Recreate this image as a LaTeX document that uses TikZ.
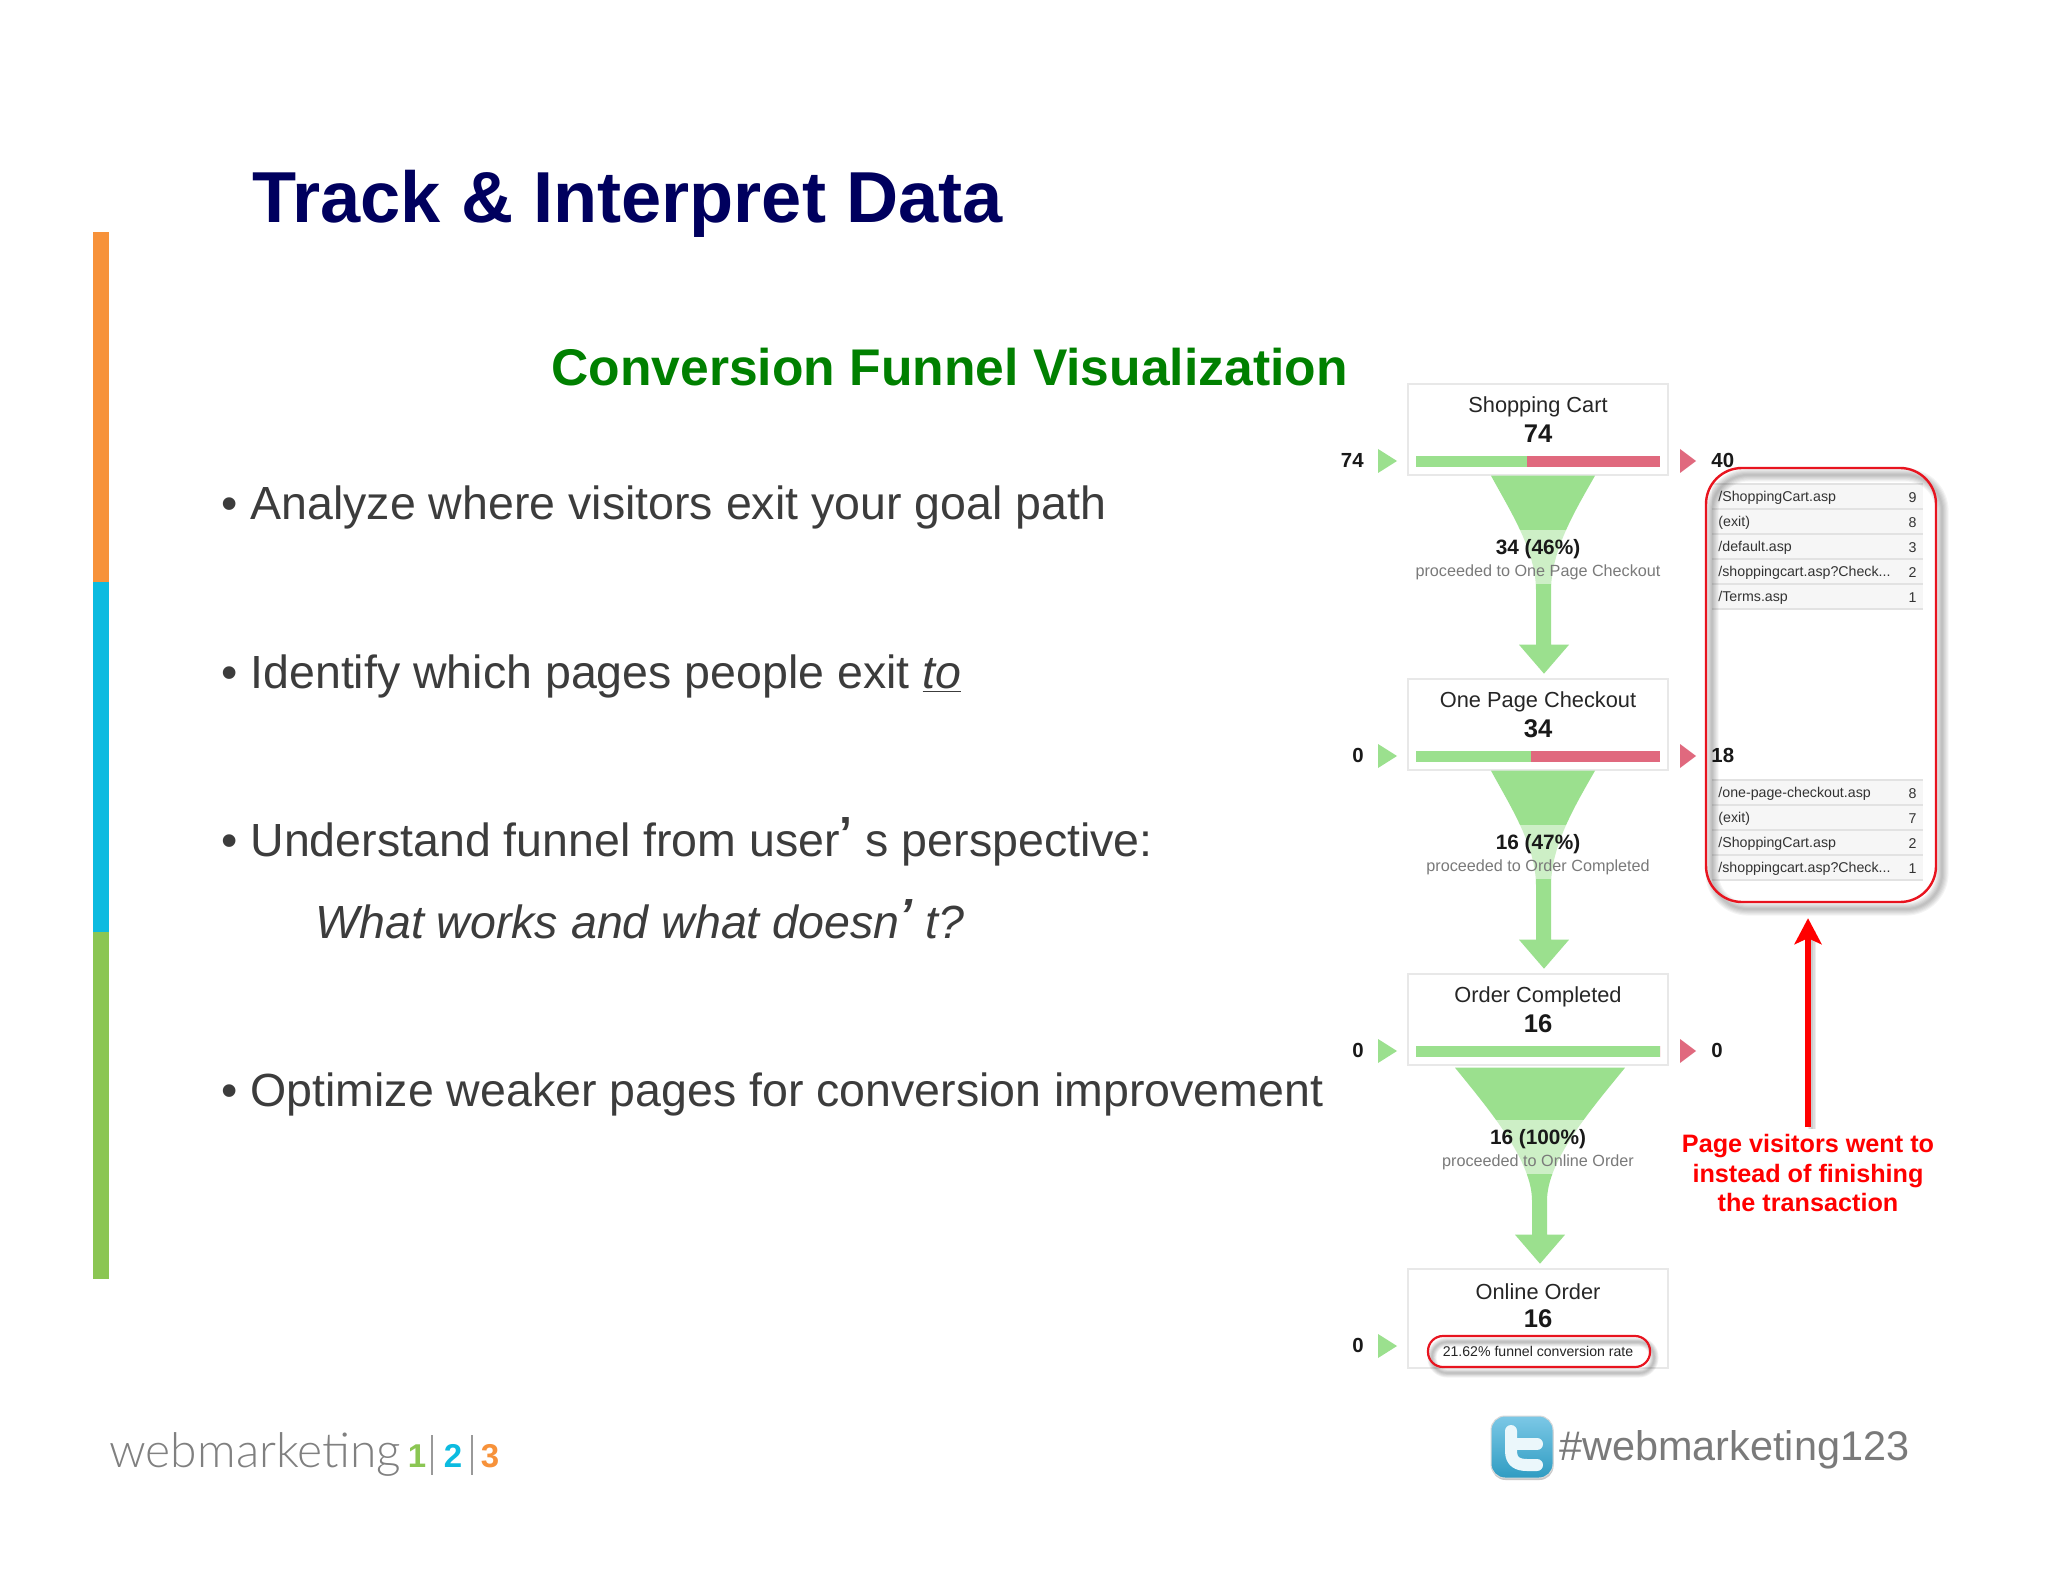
\documentclass[tikz,border=0pt]{standalone}
\usepackage{fontspec}
\setmainfont{Liberation Sans}
\newfontfamily\logofont{Lato Light}
\usetikzlibrary{arrows.meta,calc,shapes.geometric}
\definecolor{navytitle}{HTML}{00005E}
\definecolor{greentitle}{HTML}{008000}
\definecolor{bodygrey}{HTML}{3C3C3C}
\definecolor{barorange}{HTML}{F7923A}
\definecolor{barblue}{HTML}{0CBBE0}
\definecolor{bargreen}{HTML}{8BC653}
\definecolor{fgreen}{HTML}{9BE08E}
\definecolor{fpink}{HTML}{E0697E}
\definecolor{boxline}{HTML}{E8E8E8}
\definecolor{rowfill}{HTML}{F6F6F6}
\definecolor{rowline}{HTML}{E2E2E2}
\definecolor{redmark}{HTML}{E8141F}
\definecolor{twtop}{HTML}{7CC8E6}
\definecolor{twbot}{HTML}{2F9CC2}
\newcommand{\raisedapos}{\raisebox{.13em}{\bfseries ’}}
\tikzset{
  stepbox/.style={draw=boxline,line width=.7pt,fill=white,minimum width=130pt,inner sep=0pt},
  steptitle/.style={font=\fontsize{10.9}{13}\selectfont,text=black!85,inner sep=0pt},
  stepnum/.style={font=\bfseries\fontsize{12.8}{14}\selectfont,text=black!90,inner sep=0pt},
  sidenum/.style={font=\bfseries\fontsize{10.2}{12}\selectfont,text=black!90,inner sep=0pt},
  pct/.style={font=\bfseries\fontsize{10.4}{12}\selectfont,text=black!90,inner sep=0pt},
  proceed/.style={font=\fontsize{8.1}{10}\selectfont,text=black!52,inner sep=0pt},
  rowtext/.style={font=\fontsize{7.1}{9}\selectfont,text=black!80,inner sep=0pt},
  bullet/.style={font=\fontsize{23.25}{26}\selectfont,text=bodygrey,inner sep=0pt,anchor=base west},
  rednote/.style={font=\bfseries\fontsize{12.6}{14.6}\selectfont,text=red,inner sep=0pt,align=center},
}
% step box: name, top y, title, number, bar split x, left count, right count
\newcommand{\stepblock}[7]{%
  \begin{scope}[shift={(0,#2)}]
    \node[stepbox,minimum height=45.5pt] (#1) at (1538,45.5) {};
    \node[steptitle] (#1title) at (1538,23) {#3};
    \node[stepnum] (#1num) at (1538,50) {#4};
    \fill[fgreen] (1416,72) rectangle (#5,83);
    \fill[fpink] (#5,72) rectangle (1660,83);
    \fill[fgreen] (1378,65) -- (1397,77) -- (1378,89) -- cycle;
    \fill[fpink] (1680,65) -- (1696,77) -- (1680,89) -- cycle;
    \node[sidenum,anchor=east] (#1in) at (1364,76) {#6};
    \node[sidenum,anchor=west] (#1out) at (1711,76) {#7};
  \end{scope}}
% narrow funnel below a box
\newcommand{\funnelone}[3]{%
  \begin{scope}[shift={(#1.south)}]
    \fill[fgreen] (-47,0) .. controls (-28,35) and (-2,75) .. (-2,115) -- (-2,169) -- (-19,169) -- (6,198) -- (31,169) -- (13,169) -- (13,115) .. controls (13,75) and (37,35) .. (57,0) -- cycle;
    \fill[white,opacity=.5] (-105,54) rectangle (125,108);
    \node[pct] (#1pct) at (0,73.5) {#2};
    \node[proceed] (#1go) at (0,97) {#3};
  \end{scope}}
\newcommand{\exitrow}[5]{%
  \fill[rowfill] (1712,#2) rectangle (1923,#2+#5);
  \draw[rowline,line width=.6pt] (1712,#2) -- (1923,#2) (1712,#2+#5) -- (1923,#2+#5);
  \node[rowtext,anchor=west] (#1a) at (1718,#2+14) {#3};
  \node[rowtext,anchor=east] (#1b) at (1917,#2+14) {#4};}
\begin{document}
\begin{tikzpicture}[x=0.5pt,y=-0.5pt]
\useasboundingbox (0,0) rectangle (2048,1582);
\fill[white] (0,0) rectangle (2048,1582);
% side bar
\fill[barorange] (93,232) rectangle (109,582);
\fill[barblue] (93,582) rectangle (109,932);
\fill[bargreen] (93,932) rectangle (109,1279);
% titles
\node[font=\bfseries\fontsize{36.1}{44}\selectfont,text=navytitle,anchor=base west,inner sep=0pt] (title) at (252,223) {Track \& Interpret Data};
\node[font=\bfseries\fontsize{25.8}{30}\selectfont,text=greentitle,anchor=base west,inner sep=0pt] (subtitle) at (551,386) {Conversion Funnel Visualization};
% bullets
\node[bullet] (b1) at (221,520) {• Analyze where visitors exit your goal path};
\node[bullet] (b2) at (221,688) {• Identify which pages people exit \underline{\itshape to}};
\node[bullet] (b3) at (221,856) {• Understand funnel from user\raisedapos\ s perspective:};
\node[bullet] (b3i) at (315,938) {\itshape What works and what doesn\raisedapos\ t?};
\node[bullet] (b4) at (221,1106) {• Optimize weaker pages for conversion improvement};
% funnel steps
\stepblock{cart}{384}{Shopping Cart}{74}{1527}{74}{40}
\stepblock{page}{679}{One Page Checkout}{34}{1531}{0}{18}
\stepblock{order}{974}{Order Completed}{16}{1660}{0}{0}
\funnelone{cart}{34 (46\%)}{proceeded to One Page Checkout}
\funnelone{page}{16 (47\%)}{proceeded to Order Completed}
\begin{scope}[shift={(order.south)}]
  \fill[fgreen] (-83,2) .. controls (-48,45) and (-6,95) .. (-6,135) -- (-6,169) -- (-23,169) -- (2,198) -- (27,169) -- (9,169) -- (9,135) .. controls (9,95) and (52,45) .. (87,2) -- cycle;
  \fill[white,opacity=.5] (-105,54) rectangle (125,108);
  \node[pct] (orderpct) at (0,73.5) {16 (100\%)};
  \node[proceed] (ordergo) at (0,97) {proceeded to Online Order};
\end{scope}
% last step
\node[stepbox,minimum height=49.5pt] (online) at (1538,1318.5) {};
\node[steptitle] (onlinetitle) at (1538,1291.5) {Online Order};
\node[stepnum] (onlinenum) at (1538,1319) {16};
\fill[fgreen] (1378,1334) -- (1397,1346) -- (1378,1358) -- cycle;
\node[sidenum,anchor=east] (onlinein) at (1364,1345) {0};
\foreach \k in {1,...,5}
  \draw[black,opacity=.05,line width=\k*.9pt,rounded corners=7.5pt] (1432,1342) rectangle (1654,1373);
\node[draw=redmark,line width=1.1pt,rounded corners=7.5pt,minimum width=111pt,minimum height=15.5pt,inner sep=0pt] (rate) at (1539,1351.5) {};
\node[font=\fontsize{7.05}{9}\selectfont,text=black!85,inner sep=0pt] (ratetext) at (1538,1351) {21.62\% funnel conversion rate};
% exit pages
\exitrow{ra}{484}{/ShoppingCart.asp}{9}{25}
\exitrow{rb}{509}{(exit)}{8}{25}
\exitrow{rc}{534}{/default.asp}{3}{25}
\exitrow{rd}{559}{/shoppingcart.asp?Check...}{2}{25}
\exitrow{re}{584}{/Terms.asp}{1}{25}
\exitrow{rf}{780}{/one-page-checkout.asp}{8}{25}
\exitrow{rg}{805}{(exit)}{7}{25}
\exitrow{rh}{830}{/ShoppingCart.asp}{2}{25}
\exitrow{ri}{855}{/shoppingcart.asp?Check...}{1}{25}
\foreach \k in {1,...,6}
  \draw[black,opacity=.045,line width=\k*1.1pt,rounded corners=18pt] (1712,475) rectangle (1942,909);
\node[draw=redmark,line width=1.2pt,rounded corners=18pt,minimum width=115pt,minimum height=217pt,inner sep=0pt] (exitbox) at (1821,685) {};
% note and arrow
\node[rednote] (note) at (1808,1173) {Page visitors went to\\instead of finishing\\the transaction};
\coordinate (arrowfrom) at (1808,1127);
\foreach \k in {1,...,3}
  \draw[black,opacity=.07,line width=\k*1.4pt,shorten >=12pt] ($(arrowfrom)+(4,2)$) -- ($(exitbox.south -| arrowfrom)+(4,4)$);
\draw[-{Stealth[length=13pt,width=13.5pt,inset=3pt]},red,line width=2.6pt,shorten >=7.5pt] (arrowfrom) -- (exitbox.south -| arrowfrom);
% twitter
\node[fill=black!22,rounded corners=7pt,minimum width=31pt,minimum height=31pt,inner sep=0pt] (twshadow) at (1522.5,1449) {};
\node[top color=twtop,bottom color=twbot,draw=black!15,line width=.5pt,rounded corners=7pt,minimum width=31pt,minimum height=31pt,inner sep=0pt] (twicon) at (1522,1447) {};
\draw[white!85!twtop,line width=6pt,line cap=round,line join=round] (1511,1431) -- (1511,1451) .. controls (1511,1462) and (1518,1465) .. (1527,1465) -- (1537,1465);
\draw[white!85!twtop,line width=6pt,line cap=round] (1511,1444) -- (1537,1444);
\node[font=\fontsize{20.7}{24}\selectfont,text=black!52,anchor=base west,inner sep=0pt] (hashtag) at (1559,1460) {\#webmarketing123};
% logo
\node[font=\logofont\fontsize{24}{28}\selectfont,text=black!50,anchor=base west,inner sep=0pt] (logoword) at (109,1467) {webmarketing};
\node[font=\bfseries\fontsize{16.5}{20}\selectfont,text=bargreen,anchor=base] (logoa) at (417,1467) {1};
\node[font=\bfseries\fontsize{16.5}{20}\selectfont,text=barblue,anchor=base] (logob) at (453,1467) {2};
\node[font=\bfseries\fontsize{16.5}{20}\selectfont,text=barorange,anchor=base] (logoc) at (490,1467) {3};
\coordinate (barat) at (432,1435);
\coordinate (barab) at (432,1475);
\coordinate (barbt) at (472,1435);
\coordinate (barbb) at (472,1475);
\draw[black!40,line width=.8pt] (barat) -- (barab) (barbt) -- (barbb);
\end{tikzpicture}
\end{document}
